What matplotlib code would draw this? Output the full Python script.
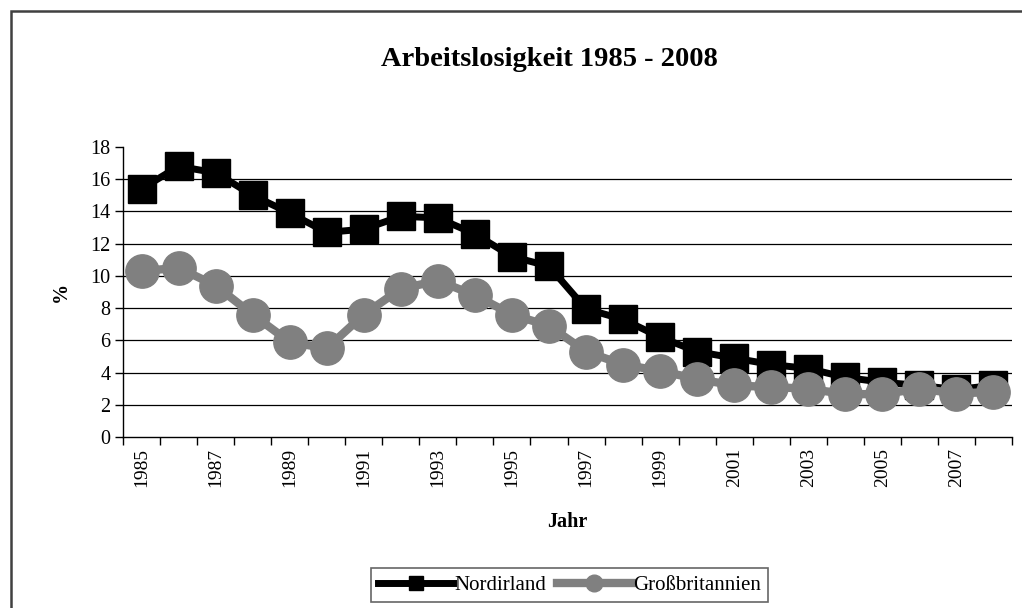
import numpy as np
import matplotlib.pyplot as plt
from matplotlib.patches import Rectangle

# data
years = list(range(1985, 2009))
nordirland = [15.4, 16.8, 16.4, 15.0, 13.9, 12.7, 12.9, 13.7, 13.6, 12.6, 11.2, 10.6,
              7.95, 7.3, 6.2, 5.3, 4.9, 4.5, 4.25, 3.7, 3.4, 3.2, 2.95, 3.2]
grossbritannien = [10.3, 10.5, 9.4, 7.6, 5.9, 5.5, 7.6, 9.2, 9.7, 8.8, 7.6, 6.9,
                   5.3, 4.5, 4.1, 3.6, 3.2, 3.1, 3.0, 2.66, 2.66, 3.0, 2.7, 2.8]
yticks = list(range(0, 20, 2))

plt.rcParams['font.family'] = ['Liberation Serif', 'DejaVu Serif']
font_size = 14.5

fig = plt.figure(figsize=(10.22, 6.08), dpi=100)
# outer chart frame (only top/left visible in reference)
fig.patches.append(Rectangle((11/1022, -0.05), 1.2, 1 - 11/608 + 0.05, transform=fig.transFigure,
                             fill=False, edgecolor='#404040', lw=1.8))

ax = fig.add_axes([123/1022, 1 - 437/608, (1012 - 123)/1022, (437 - 147)/608])
x = np.arange(len(years))
ax.plot(x, grossbritannien, color='#808080', lw=6, marker='o', ms=24, label='Großbritannien', zorder=3)
ax.plot(x, nordirland, color='black', lw=5, marker='s', ms=20, label='Nordirland', zorder=2)

ax.set_xlim(-0.5, len(years) - 0.5)
ax.set_ylim(0, 18)
ax.set_yticks(yticks)
ax.set_yticklabels([str(v) for v in yticks], fontsize=font_size)
for v in yticks[1:-1]:
    ax.axhline(v, color='black', lw=0.9, zorder=1)

ax.set_xticks(x[::2])
ax.set_xticklabels([str(y) for y in years[::2]], rotation=90, fontsize=font_size - 0.5)
ax.set_xticks(np.arange(-0.5, len(years), 1), minor=True)
ax.tick_params(axis='x', which='major', length=0, pad=8)
ax.tick_params(axis='x', which='minor', length=6, direction='out', width=1)
ax.tick_params(axis='y', length=6, direction='out', width=1, pad=3)

for s in ['top', 'right']:
    ax.spines[s].set_visible(False)
ax.spines['left'].set_linewidth(1)
ax.spines['bottom'].set_linewidth(1)

ax.set_ylabel('%', fontsize=font_size, fontweight='bold', labelpad=14)
ax.set_xlabel('Jahr', fontsize=font_size, fontweight='bold', labelpad=18)
fig.text(549/1022, 1 - 59/608, 'Arbeitslosigkeit 1985 - 2008', ha='center', va='center',
         fontsize=20.5, fontweight='bold')

handles, labels = ax.get_legend_handles_labels()
leg = fig.legend(handles[::-1], labels[::-1], loc='center', bbox_to_anchor=(569.5/1022, 1 - 585/608),
                 ncol=2, fontsize=15, frameon=True, fancybox=False, edgecolor='#404040',
                 handlelength=3.6, handletextpad=0.05, columnspacing=0.5, markerscale=0.5,
                 borderpad=0.35, borderaxespad=0)
leg.get_frame().set_linewidth(1.2)

plt.savefig('out.png', dpi=100)
